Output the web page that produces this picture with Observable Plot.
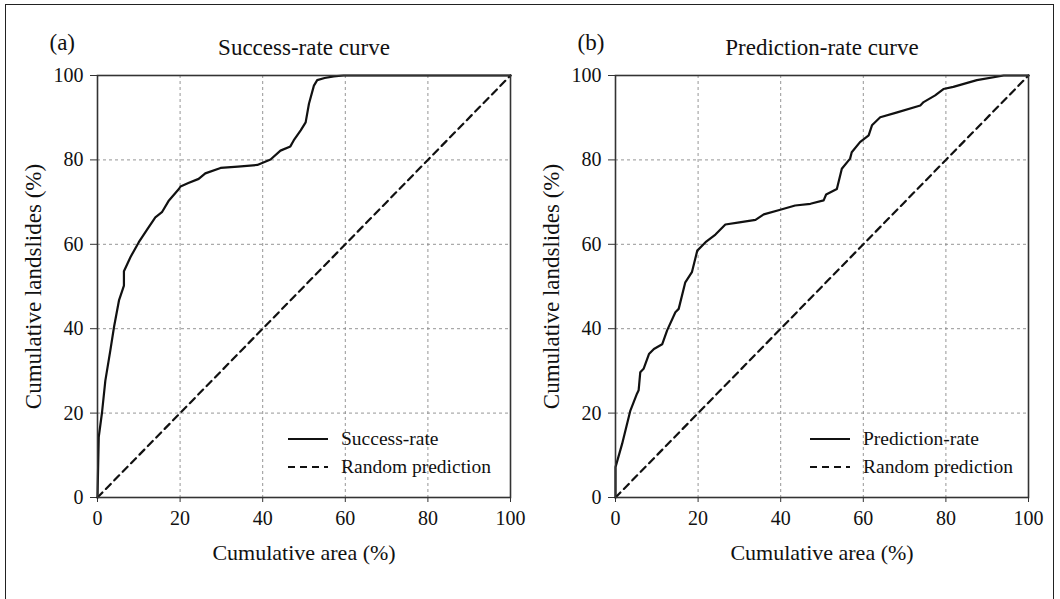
<!DOCTYPE html>
<html>
<head>
<meta charset="utf-8">
<script src="https://cdn.jsdelivr.net/npm/d3@7"></script>
<script src="https://cdn.jsdelivr.net/npm/@observablehq/plot@0.6"></script>
<style>
  html, body { margin: 0; padding: 0; background: #fff; }
  #wrap { position: relative; width: 1060px; height: 599px; overflow: hidden; font-family: "Liberation Serif", "Times New Roman", Times, "DejaVu Serif", serif; }
  #wrap svg, #wrap svg text { font-family: "Liberation Serif", "Times New Roman", Times, "DejaVu Serif", serif !important; }
  #border { position: absolute; left: 5px; top: 4px; width: 1049px; height: 620px; border: 1.5px solid #222; box-sizing: border-box; }
  .panel { position: absolute; top: 0; }
  .legend { position: absolute; font-size: 19.5px; color: #111; }
  .legend .row { position: absolute; white-space: nowrap; display: flex; align-items: center; }
  .legend svg { margin-right: 13px; }
</style>
</head>
<body>
<div id="wrap">
  <div id="border"></div>
  <div id="left" class="panel" style="left:0px"></div>
  <div id="right" class="panel" style="left:530px"></div>
</div>
<script>
// ---- data ----
const xTicks = [0, 20, 40, 60, 80, 100];
const yTicks = [0, 20, 40, 60, 80, 100];
const gridTicks = [20, 40, 60, 80];
const randomX = [0, 100];
const randomY = [0, 100];

const successX = [0, 0.3, 1.1, 1.9, 3.1, 4.0, 5.2, 6.0, 6.4, 6.4, 8, 10, 12, 14, 15.6, 17.3, 19.7, 20.1, 22, 24.5, 26.1, 29.8, 34, 38.7, 41.9, 44.3, 46.7, 47.5, 49.2, 50.4, 51.2, 52.4, 53.2, 55, 57.2, 59.6, 70, 80, 90, 100];
const successY = [0, 14.3, 20.2, 27.7, 34.8, 40.4, 46.7, 49, 50.2, 53.6, 57, 60.5, 63.5, 66.4, 67.6, 70.4, 73.1, 73.7, 74.5, 75.5, 76.8, 78.1, 78.4, 78.8, 80.1, 82.2, 83.2, 84.6, 87, 88.9, 93.3, 97.6, 98.9, 99.4, 99.8, 100, 100, 100, 100, 100];

const predX = [0, 0, 1.6, 3.6, 5.2, 5.6, 6.0, 6.8, 8.1, 9.3, 11.3, 12.5, 14.5, 15.3, 16.9, 18.5, 19.8, 21.8, 24.2, 26.6, 30, 33.9, 35.9, 39.9, 43.5, 47.2, 50.4, 51.0, 53.6, 54.8, 56.8, 57.2, 59.2, 61.3, 62.1, 64.1, 68, 73.8, 74.6, 77.4, 79.4, 81.8, 87.5, 94, 100];
const predY = [0, 7.2, 12.7, 20.6, 24.6, 25.4, 29.7, 30.5, 34, 35.2, 36.3, 39.6, 43.9, 44.7, 51, 53.4, 58.5, 60.5, 62.3, 64.7, 65.2, 65.8, 67.1, 68.2, 69.2, 69.6, 70.4, 71.8, 73.1, 77.9, 80.3, 81.8, 84.2, 85.8, 88.2, 90.1, 91.2, 92.9, 93.7, 95.3, 96.8, 97.3, 98.9, 100, 100];

const panels = [
  {id: "left", tag: "(a)", title: "Success-rate curve", series: "Success-rate", xs: successX, ys: successY, marginLeft: 97, width: 530},
  {id: "right", tag: "(b)", title: "Prediction-rate curve", series: "Prediction-rate", xs: predX, ys: predY, marginLeft: 85, width: 520}
];
const xLabel = "Cumulative area (%)";
const yLabel = "Cumulative landslides (%)";
const randomLabel = "Random prediction";
const FONT = '"Liberation Serif", "Times New Roman", Times, "DejaVu Serif", serif';

function drawPanel(p) {
  const curve = p.xs.map((x, i) => ({x, y: p.ys[i]}));
  const diag = randomX.map((x, i) => ({x, y: randomY[i]}));
  const plotW = 413;
  const chart = Plot.plot({
    width: p.width,
    height: 570,
    marginLeft: p.marginLeft,
    marginRight: p.width - p.marginLeft - plotW,
    marginTop: 75,
    marginBottom: 73,
    style: {fontFamily: FONT, fontSize: "19px", color: "#111", background: "transparent", overflow: "visible"},
    x: {domain: [0, 100]},
    y: {domain: [0, 100]},
    marks: [
      Plot.gridX(gridTicks, {stroke: "#8a8a8a", strokeOpacity: 1, strokeWidth: 0.9, strokeDasharray: "3,3"}),
      Plot.gridY(gridTicks, {stroke: "#8a8a8a", strokeOpacity: 1, strokeWidth: 0.9, strokeDasharray: "3,3"}),
      Plot.axisX({ticks: xTicks, tickSize: 5, tickPadding: 8, label: null, fontSize: 20, stroke: "#333"}),
      Plot.axisY({ticks: yTicks, tickSize: 7, tickPadding: 7, label: null, fontSize: 20, stroke: "#333"}),
      Plot.line(diag, {x: "x", y: "y", stroke: "#111", strokeWidth: 2.2, strokeDasharray: "7,5"}),
      Plot.line(curve, {x: "x", y: "y", stroke: "#111", strokeWidth: 2.2}),
      Plot.frame({stroke: "#333", strokeWidth: 1.6}),
      Plot.text([p.title], {frameAnchor: "top", dy: -28, lineAnchor: "middle", fontSize: 23, fill: "#111"}),
      Plot.text([p.tag], {frameAnchor: "top-left", dx: p.id === "left" ? -48 : -38, dy: -33, textAnchor: "start", lineAnchor: "middle", fontSize: 23, fill: "#111"}),
      Plot.text([xLabel], {frameAnchor: "bottom", dy: 55, lineAnchor: "middle", fontSize: 22, fill: "#111"}),
      Plot.text([yLabel], {frameAnchor: "left", dx: -64, rotate: -90, textAnchor: "middle", lineAnchor: "middle", fontSize: 23, fill: "#111"})
    ]
  });
  document.getElementById(p.id).appendChild(chart);

  const lg = document.createElement("div");
  lg.className = "legend";
  const panelLeft = p.id === "left" ? 0 : 530;
  const legX = p.id === "left" ? 288 : 810;
  lg.style.left = (legX - panelLeft) + "px";
  lg.style.top = "0px";
  const rows = [
    {label: p.series, dash: null, y: 439},
    {label: randomLabel, dash: "7,5", y: 467}
  ];
  rows.forEach(r => {
    const row = document.createElement("div");
    row.className = "row";
    row.style.top = (r.y - 11) + "px";
    row.style.height = "22px";
    row.innerHTML = `<svg width="40" height="6"><line x1="0" y1="3" x2="40" y2="3" stroke="#111" stroke-width="2.2" ${r.dash ? `stroke-dasharray="${r.dash}"` : ""}/></svg><span>${r.label}</span>`;
    lg.appendChild(row);
  });
  document.getElementById(p.id).appendChild(lg);
}
panels.forEach(drawPanel);
</script>
</body>
</html>
